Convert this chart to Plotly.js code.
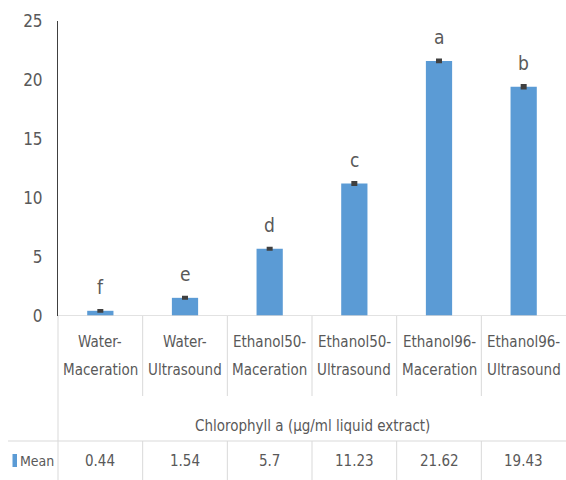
<!DOCTYPE html>
<html>
<head>
<meta charset="utf-8">
<script src="https://cdn.plot.ly/plotly-3.0.1.min.js"></script>
<style>
html,body{margin:0;padding:0;background:#fff;}
#chart{width:566px;height:480px;}
</style>
</head>
<body>
<div id="chart"></div>
<script>
const categories = ['Water-Maceration', 'Water-Ultrasound', 'Ethanol50-Maceration', 'Ethanol50-Ultrasound', 'Ethanol96-Maceration', 'Ethanol96-Ultrasound'];
const meanValues = [0.44, 1.54, 5.7, 11.23, 21.62, 19.43];
const errorValues = [0.03, 0.04, 0.05, 0.08, 0.08, 0.1];
const sigLetters = ['f', 'e', 'd', 'c', 'a', 'b'];
const tableValues = ['0.44', '1.54', '5.7', '11.23', '21.62', '19.43'];
const yTicks = [0, 5, 10, 15, 20, 25];
const seriesName = 'Mean';
const axisTitle = 'Chlorophyll a (µg/ml liquid extract)';

const W = 566, H = 480, ML = 58, MR = 0, MT = 21, MB = 164;
const plotH = H - MT - MB, plotW = W - ML - MR;
const py2paper = py => (H - MB - py) / plotH;
const px2paper = px => (px - ML) / plotW;
const FONT = '"DejaVu Sans Condensed", "Liberation Sans", sans-serif';
const TXT = '#595959';
const GRID = '#d9d9d9';
const idx = categories.map((c, i) => i);

const trace = {
  type: 'bar',
  x: idx,
  y: meanValues,
  name: seriesName,
  marker: {color: '#5b9bd5'},
  width: 0.31,
  error_y: {type: 'data', array: errorValues, visible: true, color: '#404040', thickness: 3, width: 3},
  showlegend: false,
  hoverinfo: 'none'
};

const annotations = [];
const shapes = [];
idx.forEach(i => {
  annotations.push({x: i, y: meanValues[i] + errorValues[i], xref: 'x', yref: 'y', text: sigLetters[i],
    showarrow: false, yanchor: 'bottom', yshift: 10, font: {family: FONT, size: 19, color: TXT}});
  const parts = categories[i].split('-');
  annotations.push({x: i, y: 0, xref: 'x', yref: 'paper', text: parts[0] + '-', showarrow: false,
    yanchor: 'middle', yshift: -(342 - (H - MB)), font: {family: FONT, size: 15, color: TXT}});
  annotations.push({x: i, y: 0, xref: 'x', yref: 'paper', text: parts[1], showarrow: false,
    yanchor: 'middle', yshift: -(370 - (H - MB)), font: {family: FONT, size: 15, color: TXT}});
  annotations.push({x: i, y: 0, xref: 'x', yref: 'paper', text: tableValues[i], showarrow: false,
    yanchor: 'middle', yshift: -(461 - (H - MB)), font: {family: FONT, size: 15, color: TXT}});
  if (i < categories.length - 1) {
    shapes.push({type: 'line', xref: 'x', yref: 'paper', x0: i + 0.5, x1: i + 0.5, y0: 0, y1: py2paper(396), line: {color: GRID, width: 1}});
    shapes.push({type: 'line', xref: 'x', yref: 'paper', x0: i + 0.5, x1: i + 0.5, y0: py2paper(441), y1: py2paper(482), line: {color: GRID, width: 1}});
  }
});
annotations.push({x: 0.5, y: 0, xref: 'paper', yref: 'paper', text: axisTitle, showarrow: false,
  yanchor: 'middle', yshift: -(426 - (H - MB)), font: {family: FONT, size: 15, color: TXT}});
annotations.push({x: px2paper(18), y: 0, xref: 'paper', yref: 'paper', text: seriesName, showarrow: false,
  xanchor: 'left', yanchor: 'middle', yshift: -(461 - (H - MB)), font: {family: FONT, size: 14, color: TXT}});

shapes.push({type: 'line', xref: 'paper', yref: 'y', x0: 0, x1: 1, y0: 0, y1: 0, line: {color: GRID, width: 1.5}});
shapes.push({type: 'line', xref: 'paper', yref: 'paper', x0: 0, x1: 0, y0: 0, y1: py2paper(482), line: {color: GRID, width: 1}});
shapes.push({type: 'line', xref: 'paper', yref: 'paper', x0: px2paper(8), x1: 1, y0: py2paper(441), y1: py2paper(441), line: {color: GRID, width: 1}});
shapes.push({type: 'rect', xref: 'paper', yref: 'paper', x0: px2paper(12.5), x1: px2paper(17), y0: py2paper(467), y1: py2paper(454), line: {width: 0}, fillcolor: '#5b9bd5'});

const layout = {
  width: W, height: H,
  margin: {l: ML, r: MR, t: MT, b: MB, pad: 0},
  paper_bgcolor: '#ffffff', plot_bgcolor: '#ffffff',
  showlegend: false,
  xaxis: {range: [-0.5, categories.length - 0.5], showticklabels: false, showgrid: false, zeroline: false, showline: false, fixedrange: true},
  yaxis: {range: [0, 25], tickvals: yTicks, ticktext: yTicks.map(String), showgrid: false, zeroline: false,
    showline: true, linecolor: '#404040', linewidth: 1, ticks: '', ticklabelstandoff: 11,
    tickfont: {family: FONT, size: 17, color: TXT}, fixedrange: true},
  annotations: annotations,
  shapes: shapes,
  font: {family: FONT, color: TXT}
};

Plotly.newPlot('chart', [trace], layout, {displayModeBar: false, staticPlot: true});
</script>
</body>
</html>
